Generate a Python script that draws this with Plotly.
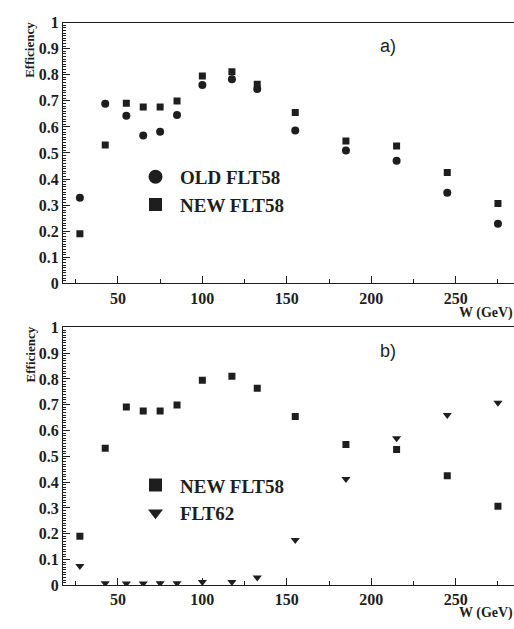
import plotly.graph_objects as go

W = [27.5, 42.5, 55, 65, 75, 85, 100, 117.5, 132.5, 155, 185, 215, 245, 275]
old_flt58 = [0.328, 0.689, 0.643, 0.567, 0.581, 0.646, 0.761, 0.783, 0.745, 0.586, 0.509, 0.470, 0.347, 0.229]
new_flt58 = [0.190, 0.531, 0.691, 0.676, 0.676, 0.699, 0.795, 0.811, 0.764, 0.655, 0.546, 0.527, 0.425, 0.306]
flt62 = [0.075, 0.008, 0.007, 0.007, 0.008, 0.008, 0.013, 0.013, 0.030, 0.176, 0.412, 0.570, 0.660, 0.708]
x_ticks = [50, 100, 150, 200, 250]
y_ticks = [0, 0.1, 0.2, 0.3, 0.4, 0.5, 0.6, 0.7, 0.8, 0.9, 1]

INK = "#1e1e1e"
SERIF = "'Liberation Serif', 'DejaVu Serif', serif"
H = 629.0

fig = go.Figure()

fig.add_trace(go.Scatter(x=W, y=old_flt58, mode="markers", xaxis="x", yaxis="y",
                         marker=dict(symbol="circle", size=8, color=INK), showlegend=False))
fig.add_trace(go.Scatter(x=W, y=new_flt58, mode="markers", xaxis="x", yaxis="y",
                         marker=dict(symbol="square", size=7, color=INK), showlegend=False))
fig.add_trace(go.Scatter(x=W, y=new_flt58, mode="markers", xaxis="x2", yaxis="y2",
                         marker=dict(symbol="square", size=7, color=INK), showlegend=False))
fig.add_trace(go.Scatter(x=W, y=flt62, mode="markers", xaxis="x2", yaxis="y2",
                         marker=dict(symbol="triangle-down", size=8, color=INK), showlegend=False))

fig.add_trace(go.Scatter(x=[None], y=[None], mode="markers", xaxis="x", yaxis="y", name="OLD FLT58",
                         marker=dict(symbol="circle", size=14, color=INK), legend="legend"))
fig.add_trace(go.Scatter(x=[None], y=[None], mode="markers", xaxis="x", yaxis="y", name="NEW FLT58",
                         marker=dict(symbol="square", size=13, color=INK), legend="legend"))
fig.add_trace(go.Scatter(x=[None], y=[None], mode="markers", xaxis="x2", yaxis="y2", name="NEW FLT58",
                         marker=dict(symbol="square", size=13, color=INK), legend="legend2"))
fig.add_trace(go.Scatter(x=[None], y=[None], mode="markers", xaxis="x2", yaxis="y2", name="FLT62",
                         marker=dict(symbol="triangle-down", size=13, color=INK), legend="legend2"))

tickfont = dict(family=SERIF, size=16, color=INK, weight="bold")

def xax(anchor):
    return dict(range=[17.5, 284.5], tickvals=x_ticks, ticks="inside", ticklen=7, tickwidth=1,
                tickcolor=INK, showline=True, linecolor=INK, linewidth=1, mirror=True,
                showgrid=False, zeroline=False, tickfont=tickfont, anchor=anchor,
                ticklabelstandoff=0,
                minor=dict(dtick=25, tick0=0, ticks="inside", ticklen=4, tickcolor=INK, showgrid=False))

def yax(domain, anchor):
    return dict(domain=domain, range=[0, 1], tickvals=y_ticks, ticks="inside", ticklen=7,
                tickcolor=INK, showline=True, linecolor=INK, linewidth=1, showgrid=False,
                zeroline=False, tickfont=tickfont, anchor=anchor, ticklabelstandoff=0,
                minor=dict(dtick=0.01, tick0=0, ticks="inside", ticklen=3, tickcolor=INK, showgrid=False))

ya_dom = [(H - 283) / H, (H - 15) / H]
yb_dom = [(H - 593.3) / H, (H - 328.3) / H]

legfont = dict(family=SERIF, size=19, color=INK, weight="bold")

fig.update_layout(
    width=514, height=629, margin=dict(l=63, r=0, t=0, b=0),
    paper_bgcolor="white", plot_bgcolor="white",
    xaxis=xax("y"), yaxis=yax(ya_dom, "x"),
    xaxis2=xax("y2"), yaxis2=yax(yb_dom, "x2"),
    legend=dict(x=(131 - 63) / 451, y=(H - 154) / H, xanchor="left", yanchor="top",
                font=legfont, bgcolor="rgba(0,0,0,0)", tracegroupgap=0, itemwidth=39,
                itemsizing="trace"),
    legend2=dict(x=(131 - 63) / 451, y=(H - 471) / H, xanchor="left", yanchor="top",
                 font=legfont, bgcolor="rgba(0,0,0,0)", tracegroupgap=0, itemwidth=39,
                 itemsizing="trace"),
)

ann_eff = dict(text="Efficiency", textangle=-90, xref="paper", yref="paper", showarrow=False,
               font=dict(family=SERIF, size=13, color=INK, weight="bold"), xanchor="center", yanchor="middle")
fig.add_annotation(**ann_eff, x=(30 - 63) / 451, y=(H - 43) / H)
fig.add_annotation(**ann_eff, x=(30 - 63) / 451, y=(H - 356) / H)

ann_w = dict(text="W (GeV)", xref="paper", yref="paper", showarrow=False, xanchor="right",
             yanchor="middle", borderpad=0,
             font=dict(family=SERIF, size=14, color=INK, weight="bold"), x=1.0)
fig.add_annotation(**ann_w, y=(H - 313) / H)
fig.add_annotation(**ann_w, y=(H - 622) / H)

ann_lab = dict(xref="paper", yref="paper", showarrow=False, xanchor="center", yanchor="middle",
               font=dict(family="'Liberation Sans', sans-serif", size=18, color=INK))
fig.add_annotation(**ann_lab, text="a)", x=(388 - 63) / 451, y=(H - 39) / H)
fig.add_annotation(**ann_lab, text="b)", x=(388 - 63) / 451, y=(H - 353) / H)

fig.write_html("out.html")
